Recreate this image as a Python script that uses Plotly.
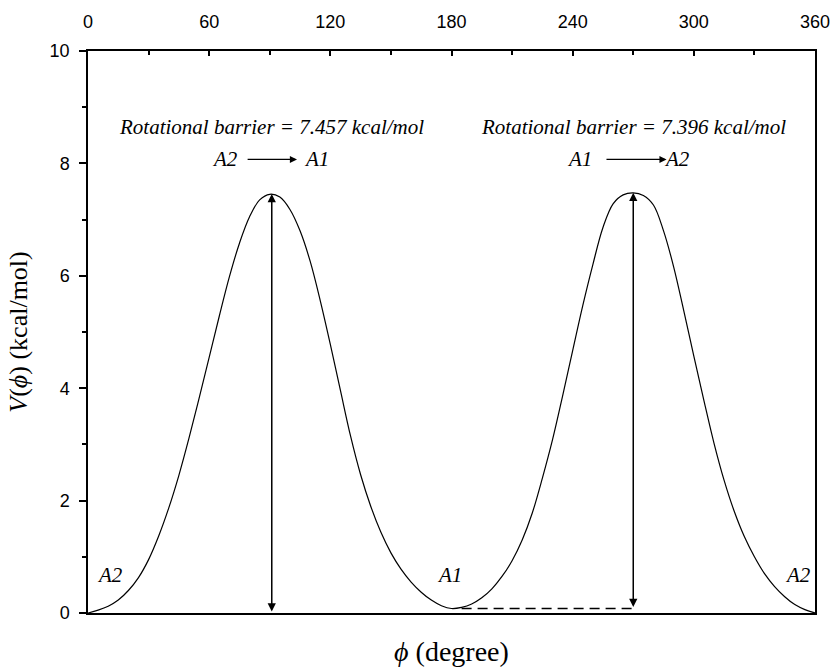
import plotly.graph_objects as go

# ---- data ----
phi = [0, 5, 10, 15, 20, 25, 30, 35, 40, 45, 50, 55, 60, 65, 70, 75, 80, 85, 90, 95,
       100, 105, 110, 115, 120, 125, 130, 135, 140, 145, 150, 155, 160, 165, 170, 175,
       180, 185, 190, 195, 200, 205, 210, 215, 220, 225, 230, 235, 240, 245, 250, 255,
       260, 265, 270, 275, 280, 285, 290, 295, 300, 305, 310, 315, 320, 325, 330, 335,
       340, 345, 350, 355, 360]
energy = [0.00, 0.05, 0.12, 0.23, 0.40, 0.63, 0.95, 1.37, 1.87, 2.45, 3.11, 3.82, 4.55,
          5.28, 5.98, 6.58, 7.05, 7.35, 7.45, 7.40,
          7.18, 6.80, 6.26, 5.56, 4.78, 3.96, 3.15, 2.46, 1.90, 1.44, 1.07, 0.78, 0.55,
          0.37, 0.23, 0.13,
          0.08, 0.10, 0.16, 0.27, 0.43, 0.65, 0.93, 1.30, 1.78, 2.40, 3.08, 3.86, 4.67,
          5.47, 6.20, 6.86,
          7.28, 7.44, 7.476, 7.43, 7.26, 6.80, 6.16, 5.38, 4.57, 3.78, 3.02, 2.36, 1.81,
          1.36, 1.00, 0.70,
          0.47, 0.29, 0.15, 0.06, 0.00]

x_ticks = [0, 60, 120, 180, 240, 300, 360]
y_ticks = [0, 2, 4, 6, 8, 10]

barrier_phi = [91, 270]
barrier_low = [0.0, 0.08]
barrier_high = [7.457, 7.476]
barrier_text = ["Rotational barrier = 7.457 kcal/mol", "Rotational barrier = 7.396 kcal/mol"]
barrier_text_y = 8.64

trans_from = ["A2", "A1"]
trans_to = ["A1", "A2"]
trans_from_phi = [67.9, 243.2]
trans_to_phi = [113.2, 291.7]
trans_arrow_start = [78.3, 256.0]
trans_arrow_end = [103.5, 286.5]
trans_y = 8.07

min_labels = ["A2", "A1", "A2"]
min_label_phi = [11.1, 179.0, 351.4]
min_label_y = 0.68

dash_phi = [185, 270]
dash_v = [0.08, 0.08]

serif = "Liberation Serif, Times New Roman, serif"
sans = "Liberation Sans, Arial, sans-serif"

fig = go.Figure()

fig.add_trace(go.Scatter(x=phi, y=energy, xaxis="x2", yaxis="y", mode="lines",
                         line=dict(color="black", width=1.2, shape="spline", smoothing=1.0),
                         showlegend=False, hoverinfo="skip"))
fig.add_trace(go.Scatter(x=dash_phi, y=dash_v, xaxis="x", yaxis="y", mode="lines",
                         line=dict(color="black", width=1.5, dash="10px,6px"),
                         showlegend=False, hoverinfo="skip"))

annotations = []
for p, lo, hi in zip(barrier_phi, barrier_low, barrier_high):
    annotations.append(dict(x=p, y=hi, ax=p, ay=lo, xref="x", yref="y", axref="x", ayref="y",
                            text="", showarrow=True, arrowhead=2, arrowside="end+start",
                            arrowsize=1.1, arrowwidth=1.5, arrowcolor="black"))
for p, t in zip(barrier_phi, barrier_text):
    annotations.append(dict(x=p, y=barrier_text_y, xref="x", yref="y", text="<i>" + t + "</i>",
                            showarrow=False, font=dict(family=serif, size=21, color="black")))
for f, t, fp, tp, s, e in zip(trans_from, trans_to, trans_from_phi, trans_to_phi,
                              trans_arrow_start, trans_arrow_end):
    annotations.append(dict(x=fp, y=trans_y, xref="x", yref="y", text="<i>" + f + "</i>",
                            showarrow=False, font=dict(family=serif, size=21, color="black")))
    annotations.append(dict(x=tp, y=trans_y, xref="x", yref="y", text="<i>" + t + "</i>",
                            showarrow=False, font=dict(family=serif, size=21, color="black")))
    annotations.append(dict(x=e, y=trans_y, ax=s, ay=trans_y, xref="x", yref="y",
                            axref="x", ayref="y", text="", showarrow=True, arrowhead=2,
                            arrowsize=1.1, arrowwidth=1.3, arrowcolor="black"))
for lab, p in zip(min_labels, min_label_phi):
    annotations.append(dict(x=p, y=min_label_y, xref="x", yref="y", text="<i>" + lab + "</i>",
                            showarrow=False, font=dict(family=serif, size=21, color="black")))

fig.update_layout(
    width=830, height=669,
    margin=dict(l=88, r=15, t=51, b=56),
    paper_bgcolor="white", plot_bgcolor="white",
    showlegend=False,
    xaxis=dict(range=[0, 360], showticklabels=False, ticks="", showgrid=False, zeroline=False,
               automargin=False,
               showline=True, linecolor="black", linewidth=1.5, mirror=True,
               title=dict(text="<i>ϕ</i> (degree)", standoff=28,
                          font=dict(family=serif, size=28, color="black"))),
    xaxis2=dict(range=[0, 360], overlaying="x", side="top", tickvals=x_ticks,
                automargin=False, ticklabeloverflow="allow",
                ticks="inside", ticklen=5, tickwidth=1.5, tickcolor="black",
                ticklabelstandoff=18,
                minor=dict(dtick=30, ticks="inside", ticklen=4, tickwidth=1.5, tickcolor="black"),
                showgrid=False, zeroline=False, showline=False,
                tickfont=dict(family=sans, size=18, color="black")),
    yaxis=dict(range=[0, 10], tickvals=y_ticks, ticks="outside", ticklen=7, tickwidth=1.5,
               tickcolor="black", automargin=False, ticklabelstandoff=6,
               minor=dict(dtick=1, ticks="outside", ticklen=4, tickwidth=1.5, tickcolor="black"),
               showgrid=False, zeroline=False, showline=True, linecolor="black", linewidth=1.5,
               mirror=True, tickfont=dict(family=sans, size=18, color="black"),
               title=dict(text="<i>V</i>(<i>ϕ</i>) (kcal/mol)", standoff=15,
                          font=dict(family=serif, size=26, color="black"))),
    annotations=annotations,
)

fig.write_html("out.html", config={"displayModeBar": False},
               post_script="document.body.style.margin='0';document.body.style.overflow='hidden';")
